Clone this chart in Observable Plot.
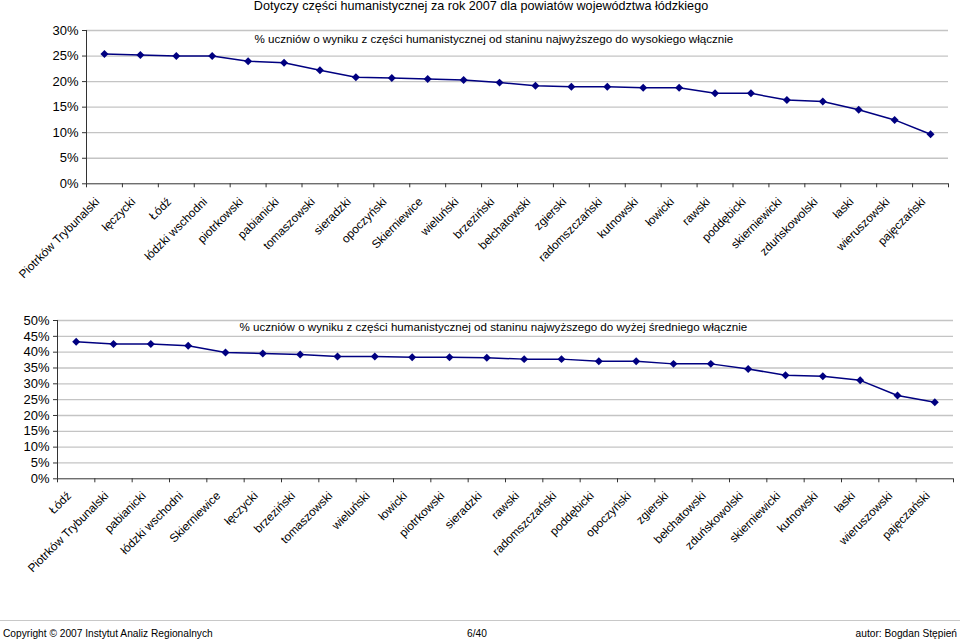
<!DOCTYPE html>
<html><head><meta charset="utf-8">
<script src="https://cdn.jsdelivr.net/npm/d3@7"></script>
<script src="https://cdn.jsdelivr.net/npm/@observablehq/plot@0.6"></script>
<style>
body{margin:0;background:#fff;font-family:"Liberation Sans",Arial,sans-serif}
#page{position:relative;width:960px;height:642px;overflow:hidden;background:#fff}
#title{position:absolute;left:0;top:-1px;width:962px;text-align:center;font-size:12.6px;line-height:14px;color:#000}
#c1{position:absolute;left:0;top:0}
#c2{position:absolute;left:0;top:300px}
#rule{position:absolute;left:0;top:620px;width:960px;height:1px;background:#c8c8c8}
.ft{position:absolute;top:628px;font-size:10.2px;line-height:12px;color:#000}
</style></head><body>
<div id="page">
  <div id="title">Dotyczy części humanistycznej za rok 2007 dla powiatów województwa łódzkiego</div>
  <div id="c1"></div>
  <div id="c2"></div>
  <div id="rule"></div>
  <div class="ft" style="left:3px">Copyright © 2007 Instytut Analiz Regionalnych</div>
  <div class="ft" style="left:467px">6/40</div>
  <div class="ft" style="right:3px">autor: Bogdan Stępień</div>
</div>
<script>
const categories1 = ["Piotrków Trybunalski","łęczycki","Łódź","łódzki wschodni","piotrkowski","pabianicki","tomaszowski","sieradzki","opoczyński","Skierniewice","wieluński","brzeziński","bełchatowski","zgierski","radomszczański","kutnowski","łowicki","rawski","poddębicki","skierniewicki","zduńskowolski","łaski","wieruszowski","pajęczański"];
const values1 = [25.4,25.2,25.0,25.0,24.0,23.7,22.2,20.85,20.7,20.5,20.3,19.8,19.2,19.0,19.0,18.8,18.8,17.7,17.7,16.4,16.1,14.5,12.5,9.7];
const subtitle1 = "% uczniów o wyniku z części humanistycznej od staninu najwyższego do wysokiego włącznie";
const yTicks1 = [0,5,10,15,20,25,30];

const categories2 = ["Łódź","Piotrków Trybunalski","pabianicki","łódzki wschodni","Skierniewice","łęczycki","brzeziński","tomaszowski","wieluński","łowicki","piotrkowski","sieradzki","rawski","radomszczański","poddębicki","opoczyński","zgierski","bełchatowski","zduńskowolski","skierniewicki","kutnowski","łaski","wieruszowski","pajęczański"];
const values2 = [43.3,42.6,42.6,42.0,39.9,39.6,39.25,38.6,38.6,38.4,38.4,38.2,37.8,37.8,37.1,37.1,36.3,36.3,34.7,32.7,32.4,31.1,26.3,24.2];
const subtitle2 = "% uczniów o wyniku z części humanistycznej od staninu najwyższego do wyżej średniego włącznie";
const yTicks2 = [0,5,10,15,20,25,30,35,40,45,50];

function makeChart(o) {
  const rows = o.cats.map((c, i) => ({c, v: o.vals[i], x: i + 0.5}));
  return Plot.plot({
    width: 960, height: o.height,
    marginTop: o.mt, marginBottom: o.mb, marginLeft: o.ml, marginRight: o.mr,
    style: {fontFamily: '"Liberation Sans", Arial, sans-serif', fontSize: "12px", color: "#000", background: "transparent", overflow: "visible"},
    x: {domain: [0, o.cats.length]},
    y: {domain: [0, o.yMax]},
    marks: [
      Plot.gridY(o.yTicks.filter(t => t > 0), {stroke: "#c4c4c4", strokeOpacity: 1, strokeWidth: 1.3}),
      Plot.axisY(o.yTicks, {tickFormat: d => d + "%", tickSize: 4, tickPadding: 4, fontSize: 13, stroke: "#333", label: null}),
      Plot.ruleX([0], {stroke: "#333"}),
      Plot.ruleY([0], {stroke: "#333"}),
      Plot.axisX(d3.range(o.cats.length + 1), {tickSize: 4, tickFormat: () => "", stroke: "#333", label: null}),
      Plot.axisX(rows.map(r => r.x), {tickSize: 0, tickRotate: -45, tickPadding: o.tp, dx: -7, tickFormat: x => o.cats[Math.floor(x)], fontSize: 11.8, label: null}),
      Plot.line(rows, {x: "x", y: "v", stroke: "#000080", strokeWidth: 1.5}),
      Plot.dot(rows, {x: "x", y: "v", symbol: "diamond2", r: 3.6, fill: "#000080", stroke: "none"}),
      Plot.text([o.subtitle], {text: d => d, frameAnchor: "top-left", textAnchor: "start", lineAnchor: "top", dx: o.sdx, dy: o.sdy, fontSize: o.sfs, fill: "#000"})
    ]
  });
}

document.getElementById("c1").appendChild(makeChart({
  cats: categories1, vals: values1, yMax: 30, yTicks: yTicks1, subtitle: subtitle1,
  height: 300, mt: 30, mb: 116.7, ml: 86, mr: 12, tp: 16, sdx: 168, sdy: 4.5, sfs: 11.6
}));
document.getElementById("c2").appendChild(makeChart({
  cats: categories2, vals: values2, yMax: 50, yTicks: yTicks2, subtitle: subtitle2,
  height: 315, mt: 20, mb: 136.7, ml: 57, mr: 7, tp: 15, sdx: 182, sdy: 2.5, sfs: 11.6
}));
</script>
</body></html>
